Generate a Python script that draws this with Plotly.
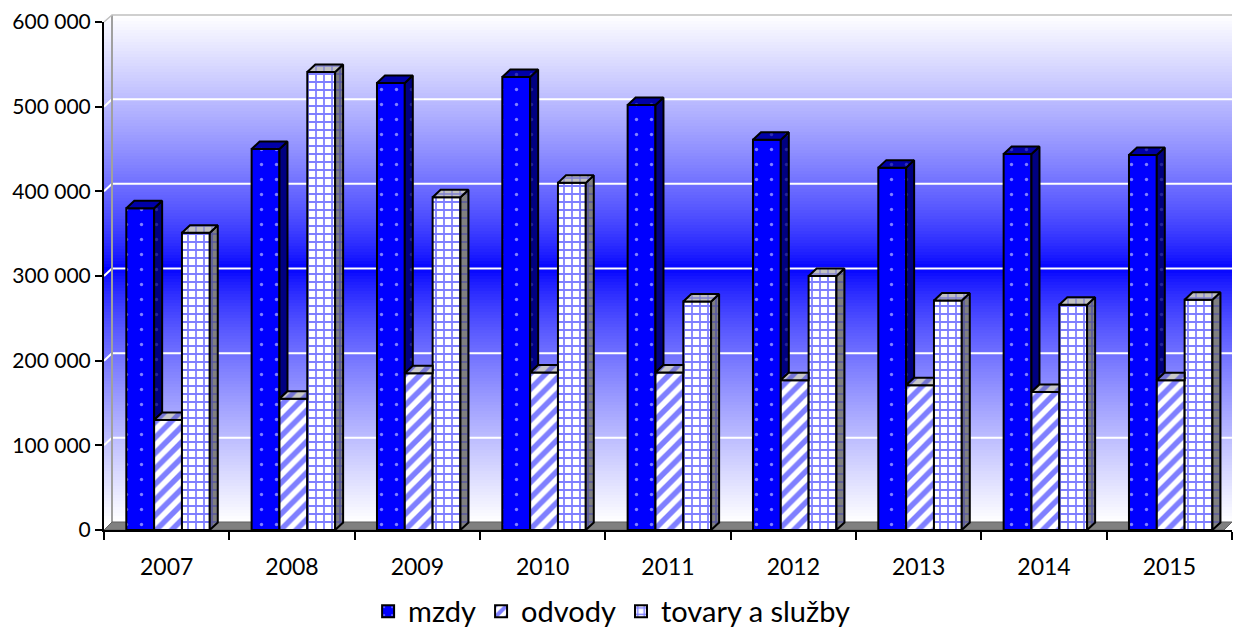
import plotly.graph_objects as go

# ---------------- data ----------------
years = ["2007", "2008", "2009", "2010", "2011", "2012", "2013", "2014", "2015"]
mzdy = [380000, 450000, 528000, 535000, 502000, 461000, 428000, 444000, 443000]
odvody = [130000, 155000, 185000, 186000, 186000, 177000, 171000, 163000, 177000]
tovary = [351000, 541000, 393000, 410000, 270000, 300000, 271000, 266000, 272000]
series_names = ["mzdy", "odvody", "tovary a služby"]
ytick_vals = [0, 100000, 200000, 300000, 400000, 500000, 600000]
ytick_text = ["0", "100 000", "200 000", "300 000", "400 000", "500 000", "600 000"]

# ---------------- geometry / style ----------------
W, H = 1235, 632
L, R = 104, 1232      # plot area in px
T, B = 22, 530
YMAX = 600000
n = len(years)
cat_px = (R - L) / n
DEPTH_X = 8 / cat_px                 # 3D depth in category units
DEPTH_Y = 7.5 / (B - T) * YMAX       # 3D depth in value units
BW = 0.222
START = -0.322
FONT = "Lato"


def pxx(p):
    return (p - L) / (R - L)


def pxy(p):
    return (B - p) / (B - T)


series = [mzdy, odvody, tovary]
front_style = [
    dict(shape=".", bgcolor="#0000ff", fgcolor="#ffffff", size=15, solidity=0.04),
    dict(shape="/", bgcolor="#ffffff", fgcolor="#0000ff", size=11, solidity=0.5),
    dict(shape="+", bgcolor="#ffffff", fgcolor="#0000ff", size=8, solidity=0.4),
]
side_style = [
    dict(shape=".", bgcolor="#000080", fgcolor="#4a4ab0", size=15, solidity=0.04),
    dict(shape="/", bgcolor="#9090a0", fgcolor="#0000c0", size=11, solidity=0.5),
    dict(shape="+", bgcolor="#808080", fgcolor="#3030c0", size=8, solidity=0.35),
]
top_style = [
    dict(shape=".", bgcolor="#0000a8", fgcolor="#6060d0", size=15, solidity=0.04),
    dict(shape="/", bgcolor="#c8c8c8", fgcolor="#2020e0", size=11, solidity=0.45),
    dict(shape="+", bgcolor="#c0c0c0", fgcolor="#4040e0", size=8, solidity=0.3),
]

fig = go.Figure()

# front faces (bars)
for k, (name, vals) in enumerate(zip(series_names, series)):
    fig.add_trace(go.Bar(
        x=list(range(n)), y=vals, name=name,
        width=BW, offset=START + k * BW,
        marker=dict(color=front_style[k]["bgcolor"], pattern=front_style[k],
                    line=dict(color="black", width=2)),
    ))

# side and top faces (3D effect)
for k, vals in enumerate(series):
    sx, sy, tx, ty = [], [], [], []
    for i in range(n):
        v = vals[i]
        x0 = i + START + k * BW
        x1 = x0 + BW
        nxt = series[k + 1][i] if k + 1 < len(series) else 0
        lower = nxt
        if lower < v:
            sx += [x1, x1, x1 + DEPTH_X, x1 + DEPTH_X, x1, None]
            sy += [lower, v, v + DEPTH_Y, lower + DEPTH_Y, lower, None]
        if nxt > v:
            tx += [x0, x1, x1, x0 + DEPTH_X, x0, None]
            ty += [v, v, v + DEPTH_Y, v + DEPTH_Y, v, None]
        else:
            tx += [x0, x1, x1 + DEPTH_X, x0 + DEPTH_X, x0, None]
            ty += [v, v, v + DEPTH_Y, v + DEPTH_Y, v, None]
    if sx:
        fig.add_trace(go.Scatter(x=sx, y=sy, mode="lines", fill="toself",
                                 fillcolor=side_style[k]["bgcolor"], fillpattern=side_style[k],
                                 line=dict(color="black", width=2), showlegend=False,
                                 hoverinfo="skip"))
    fig.add_trace(go.Scatter(x=tx, y=ty, mode="lines", fill="toself",
                             fillcolor=top_style[k]["bgcolor"], fillpattern=top_style[k],
                             line=dict(color="black", width=2), showlegend=False,
                             hoverinfo="skip"))

# ---------------- background wall (gradient), gridlines, floor ----------------
shapes = []
wall_top, wall_bot = 15, 530
cy = (15 + 522) / 2
half = (522 - 15) / 2
step = 3
p = wall_top
while p < wall_bot:
    mid = p + step / 2
    t = min(abs(mid - cy) / half, 1.0)
    t = t ** 0.75
    c = int(round(255 * t))
    shapes.append(dict(type="rect", xref="paper", yref="paper", layer="below",
                       x0=pxx(L), x1=pxx(R), y0=pxy(p), y1=pxy(min(p + step + 0.5, wall_bot)),
                       fillcolor=f"rgb({c},{c},255)", line=dict(width=0)))
    p += step

# gridlines on back wall
for v in ytick_vals[1:]:
    yp = B - v / YMAX * (B - T)
    shapes.append(dict(type="path", xref="paper", yref="paper", layer="below",
                       path=f"M {pxx(L)},{pxy(yp)} L {pxx(L + 8)},{pxy(yp - 7.5)} L {pxx(R)},{pxy(yp - 7.5)}",
                       line=dict(color="white", width=2)))

# wall edges
shapes.append(dict(type="line", xref="paper", yref="paper", layer="below",
                   x0=pxx(L + 8), x1=pxx(L + 8), y0=pxy(15), y1=pxy(522),
                   line=dict(color="#a0a0a0", width=2)))
shapes.append(dict(type="path", xref="paper", yref="paper", layer="below",
                   path=f"M {pxx(L)},{pxy(T)} L {pxx(L + 8)},{pxy(15)} L {pxx(R)},{pxy(15)}",
                   line=dict(color="#c0c0c0", width=1.5)))
# floor
shapes.append(dict(type="path", xref="paper", yref="paper", layer="below",
                   path=f"M {pxx(L)},{pxy(B)} L {pxx(L + 8)},{pxy(522)} L {pxx(R)},{pxy(522)} L {pxx(R - 8)},{pxy(B)} Z",
                   fillcolor="#808080", line=dict(color="#606060", width=1)))

fig.update_layout(
    width=W, height=H, autosize=False,
    margin=dict(l=L, r=W - R, t=T, b=H - B, autoexpand=False),
    paper_bgcolor="white", plot_bgcolor="white",
    barmode="overlay",
    shapes=shapes,
    font=dict(family=FONT, color="black"),
    showlegend=True,
    legend=dict(orientation="h", x=0.45, xanchor="center", y=-0.16, yanchor="middle",
                font=dict(family=FONT, size=29, color="black"), bgcolor="rgba(0,0,0,0)",
                traceorder="normal"),
    xaxis=dict(range=[-0.5, n - 0.5], tickvals=list(range(n)), ticktext=years,
               ticks="", showgrid=False, zeroline=False, automargin=False,
               showline=True, linecolor="black", linewidth=2,
               tickfont=dict(family=FONT, size=23, color="black"),
               ticklabelstandoff=15,
               minor=dict(tickvals=[i - 0.5 for i in range(n + 1)], ticks="outside",
                          ticklen=8, tickwidth=2, tickcolor="black", showgrid=False)),
    yaxis=dict(range=[0, YMAX], tickvals=ytick_vals, ticktext=ytick_text,
               ticks="outside", ticklen=7, tickwidth=2, tickcolor="black",
               showgrid=False, zeroline=False, automargin=False,
               showline=True, linecolor="black", linewidth=2,
               tickfont=dict(family=FONT, size=21, color="black")),
)

fig.write_html("out.html", config={"displayModeBar": False},
               post_script="document.body.style.margin='0';document.body.style.overflow='hidden';")
